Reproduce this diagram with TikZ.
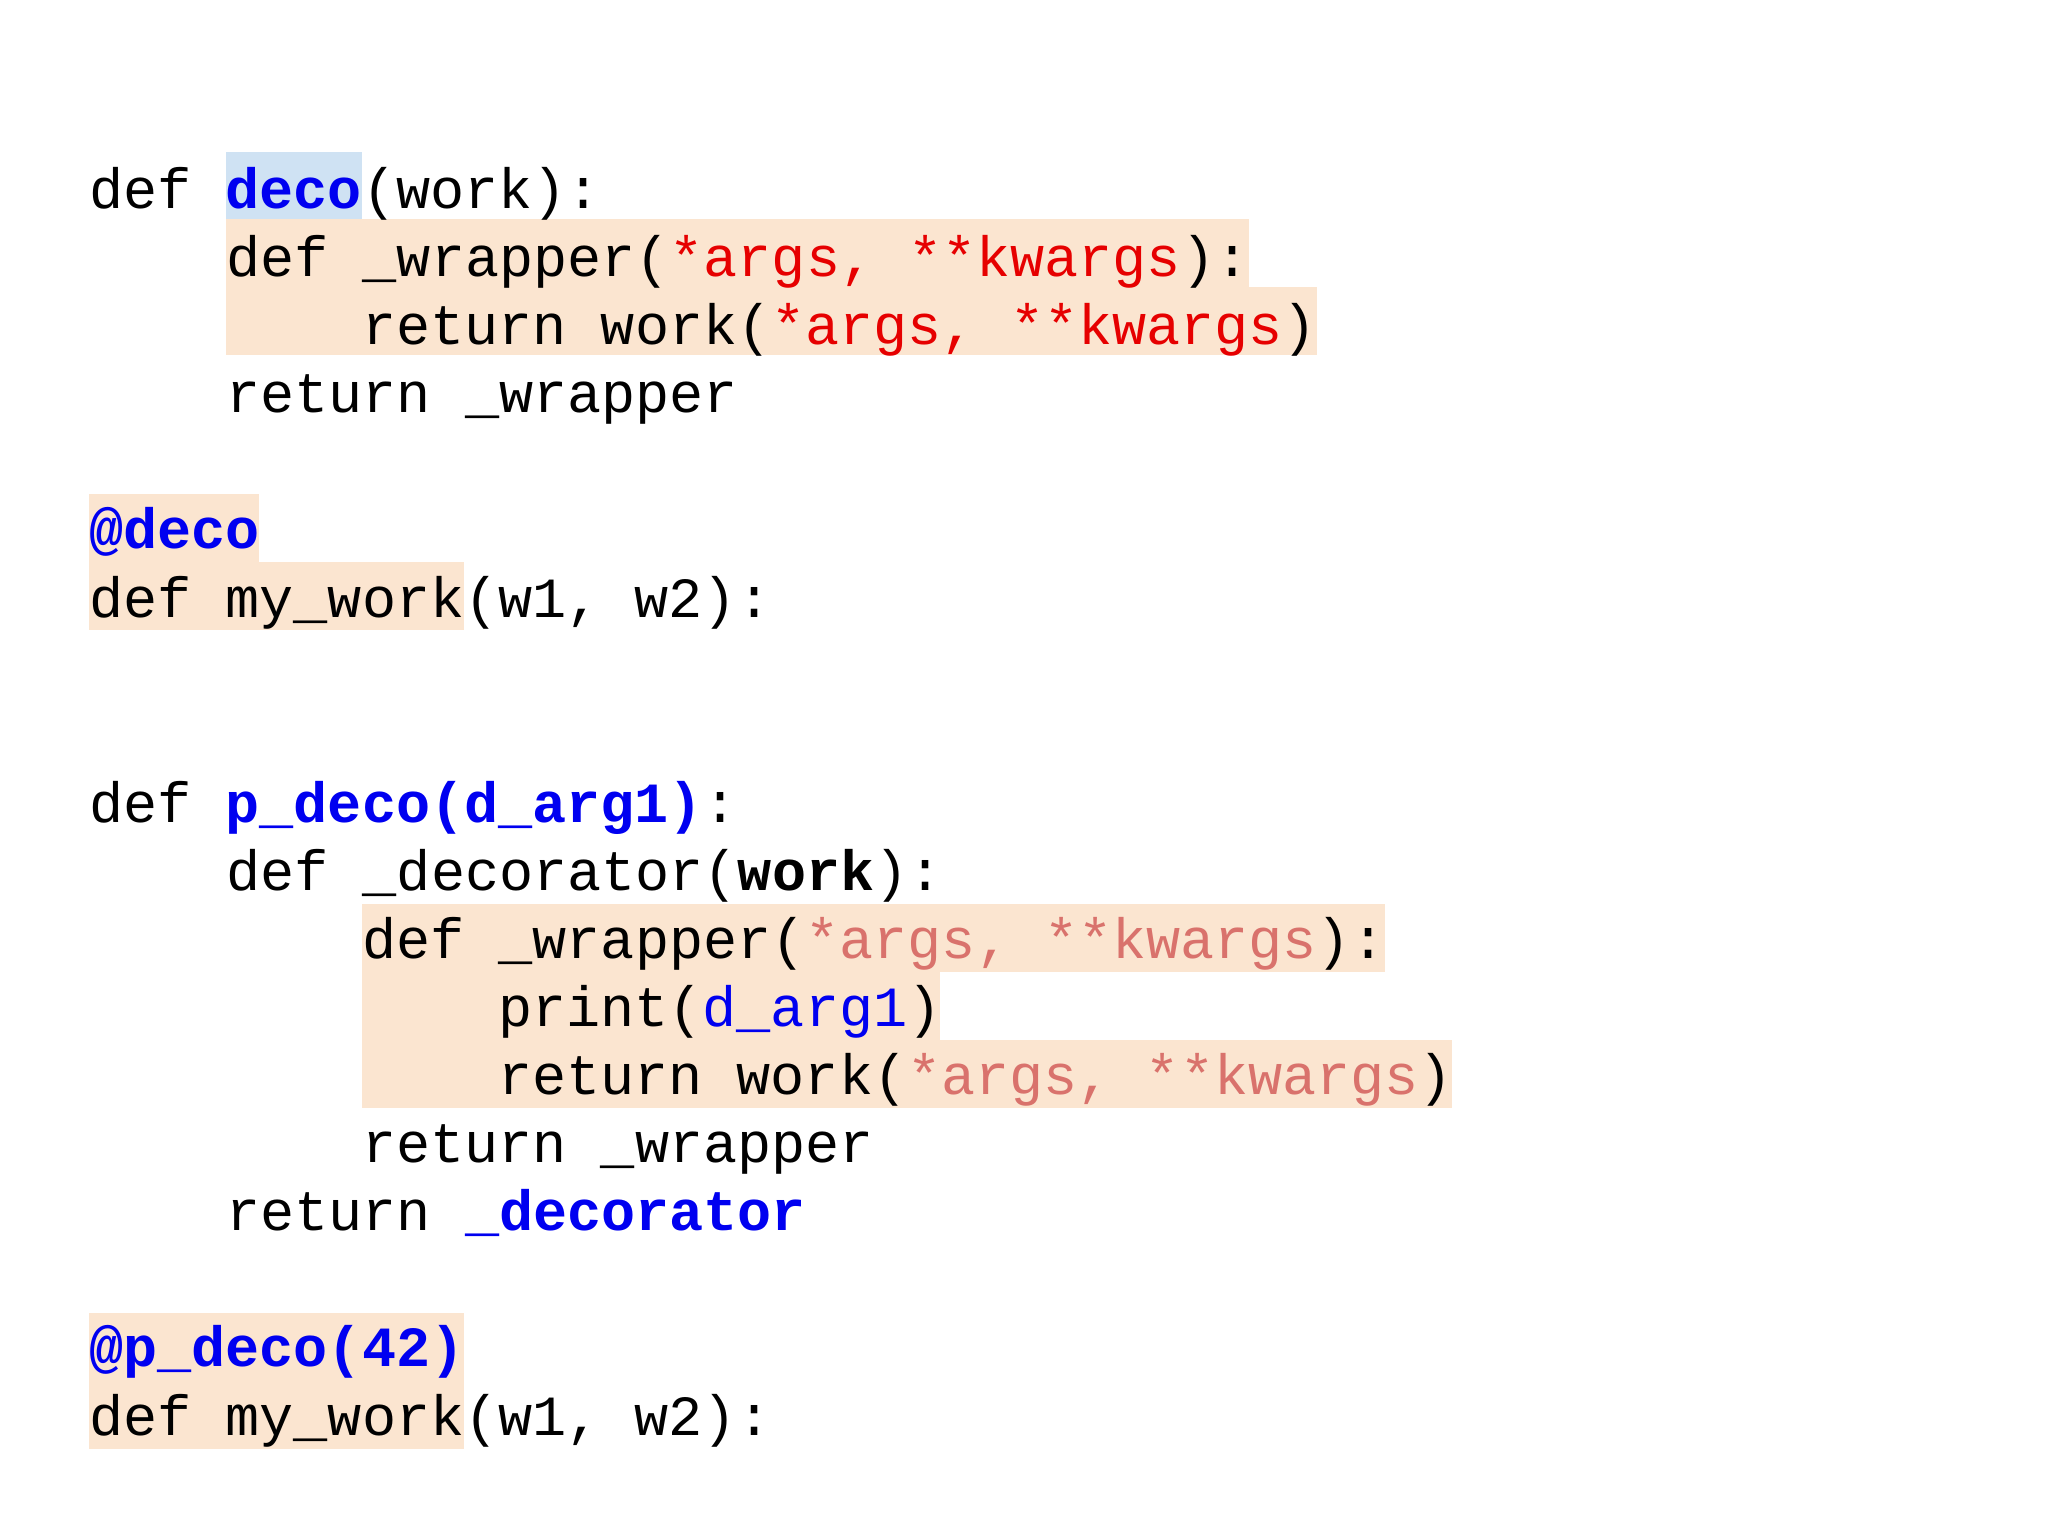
\documentclass[tikz,border=0pt]{standalone}
\usepackage{fontspec}
\setmonofont{Liberation Mono}
\definecolor{hl}{HTML}{FBE5D0}
\definecolor{hb}{HTML}{CFE2F3}
\definecolor{kb}{HTML}{0000F0}
\definecolor{kr}{HTML}{E60000}
\definecolor{kp}{HTML}{D9726C}
\newcommand{\kwB}[1]{\textcolor{kb}{\textbf{#1}}}
\newcommand{\kwR}[1]{\textcolor{kr}{#1}}
\newcommand{\kwP}[1]{\textcolor{kp}{#1}}
\begin{document}
\begin{tikzpicture}[x=0.5pt,y=-0.5pt,
  code/.style={anchor=base west,inner sep=0pt,font=\ttfamily\fontsize{21.75}{26}\selectfont\frenchspacing}]
\useasboundingbox[fill=white] (0,0) rectangle (1568,1176);
% highlights
\fill[hb] (173,116) rectangle (277,168);
\fill[hl] (173,168) rectangle (956,220);
\fill[hl] (173,220) rectangle (1008,272);
\fill[hl] (68,378) rectangle (198,430);
\fill[hl] (68,430) rectangle (355,482);
\fill[hl] (277,692) rectangle (1060,744);
\fill[hl] (277,744) rectangle (720,796);
\fill[hl] (277,796) rectangle (1112,848);
\fill[hl] (68,1005) rectangle (355,1057);
\fill[hl] (68,1057) rectangle (355,1109);
% code
\node[code] (l1) at (68,160) {def \kwB{deco}(work):};
\node[code] (l2) at (173,212) {def \_wrapper(\kwR{*args, **kwargs}):};
\node[code] (l3) at (277,264) {return work(\kwR{*args, **kwargs})};
\node[code] (l4) at (173,316) {return \_wrapper};
\node[code] (l5) at (68,420) {\kwB{@deco}};
\node[code] (l6) at (68,473) {def my\_work(w1, w2):};
\node[code] (l7) at (68,630) {def \kwB{p\_deco(d\_arg1)}:};
\node[code] (l8) at (173,682) {def \_decorator(\textbf{work}):};
\node[code] (l9) at (277,734) {def \_wrapper(\kwP{*args, **kwargs}):};
\node[code] (l10) at (381,786) {print(\textcolor{kb}{d\_arg1})};
\node[code] (l11) at (381,838) {return work(\kwP{*args, **kwargs})};
\node[code] (l12) at (277,890) {return \_wrapper};
\node[code] (l13) at (173,942) {return \kwB{\_decorator}};
\node[code] (l14) at (68,1046) {\kwB{@p\_deco(42)}};
\node[code] (l15) at (68,1099) {def my\_work(w1, w2):};
\end{tikzpicture}
\end{document}
